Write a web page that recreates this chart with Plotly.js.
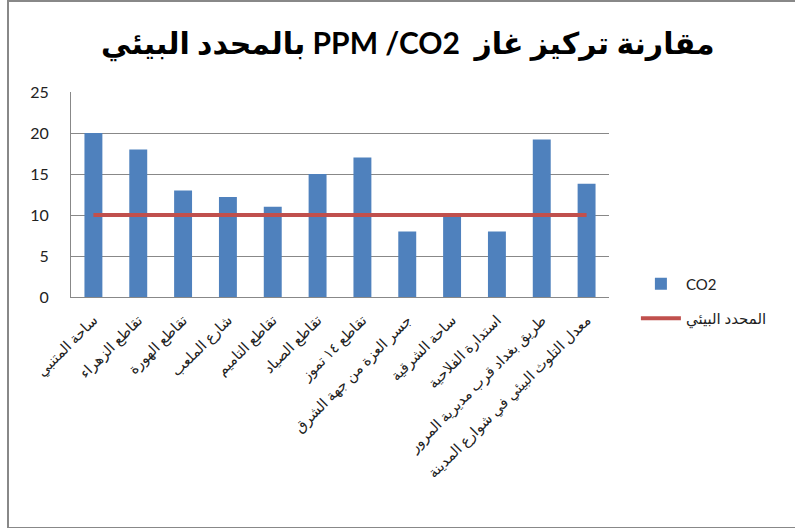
<!DOCTYPE html>
<html>
<head>
<meta charset="utf-8">
<script src="https://cdn.plot.ly/plotly-3.0.1.min.js"></script>
<style>
  html, body { margin: 0; padding: 0; background: #fff; }
  #wrap { position: relative; width: 795px; height: 528px; }
  #chart { width: 795px; height: 528px; }
  #frame { position: absolute; left: 7px; top: 0px; width: 800px; height: 525px;
           border: 2px solid #888; pointer-events: none; }
</style>
</head>
<body>
<div id="wrap">
  <div id="chart"></div>
  <div id="frame"></div>
</div>
<script>
const titleText = "بالمحدد البيئي PPM /CO2  مقارنة تركيز غاز";
const categories = [
  "ساحة المتنبي",
  "تقاطع الزهراء",
  "تقاطع الهورة",
  "شارع الملعب",
  "تقاطع التاميم",
  "تقاطع الصياد",
  "تقاطع ١٤ تموز",
  "جسر العزة من جهة الشرق",
  "ساحة الشرقية",
  "استدارة الفلاحية",
  "طريق بغداد قرب مديرية المرور",
  "معدل التلوث البيئي في شوارع المدينة"
];
const co2Name = "CO2";
const co2Values = [20, 18, 13, 12.2, 11, 15, 17, 8, 10, 8, 19.2, 13.8];
const limitName = "المحدد البيئي";
const limitValues = [10, 10, 10, 10, 10, 10, 10, 10, 10, 10, 10, 10];
const yTicks = [0, 5, 10, 15, 20, 25];

const baseFont = "Lato, 'DejaVu Sans', sans-serif";

const traces = [
  {
    type: "bar",
    name: co2Name,
    x: categories,
    y: co2Values,
    width: 0.4,
    marker: { color: "#4F81BD" },
    legendgroup: "a"
  },
  {
    type: "scatter",
    mode: "lines",
    name: limitName,
    x: categories,
    y: limitValues,
    line: { color: "#C0504D", width: 4 },
    legendgroup: "b"
  }
];

const layout = {
  width: 795,
  height: 528,
  margin: { l: 71, r: 186, t: 92, b: 231 },
  paper_bgcolor: "#fff",
  plot_bgcolor: "#fff",
  font: { family: baseFont, size: 14, color: "#222" },
  title: {
    text: titleText,
    font: { family: "Lato, 'DejaVu Sans', sans-serif", size: 30, color: "#000", weight: "bold" },
    x: 0.513, xref: "container", xanchor: "center",
    y: 0.918, yref: "container", yanchor: "middle"
  },
  xaxis: {
    type: "category",
    tickangle: -45,
    tickfont: { family: baseFont, size: 14.5, color: "#222" },
    showgrid: false,
    showline: true,
    linecolor: "#888",
    linewidth: 1,
    ticks: "",
    ticklabelstandoff: 8,
    zeroline: false
  },
  yaxis: {
    range: [0, 25],
    tickvals: yTicks,
    ticktext: yTicks.map(String),
    tickfont: { family: baseFont, size: 16, color: "#222" },
    showgrid: true,
    gridcolor: "#888",
    gridwidth: 1,
    showline: true,
    linecolor: "#888",
    linewidth: 1,
    ticks: "",
    ticklabelstandoff: 18,
    zeroline: false
  },
  showlegend: true,
  legend: {
    x: 1.05, xanchor: "left",
    y: -0.02, yanchor: "middle", yref: "paper",
    font: { family: baseFont, size: 15, color: "#222" },
    traceorder: "grouped",
    tracegroupgap: 12,
    itemwidth: 40,
    bgcolor: "rgba(0,0,0,0)"
  },
  bargap: 0.6
};

Plotly.newPlot("chart", traces, layout, { staticPlot: true, displayModeBar: false });
</script>
</body>
</html>
